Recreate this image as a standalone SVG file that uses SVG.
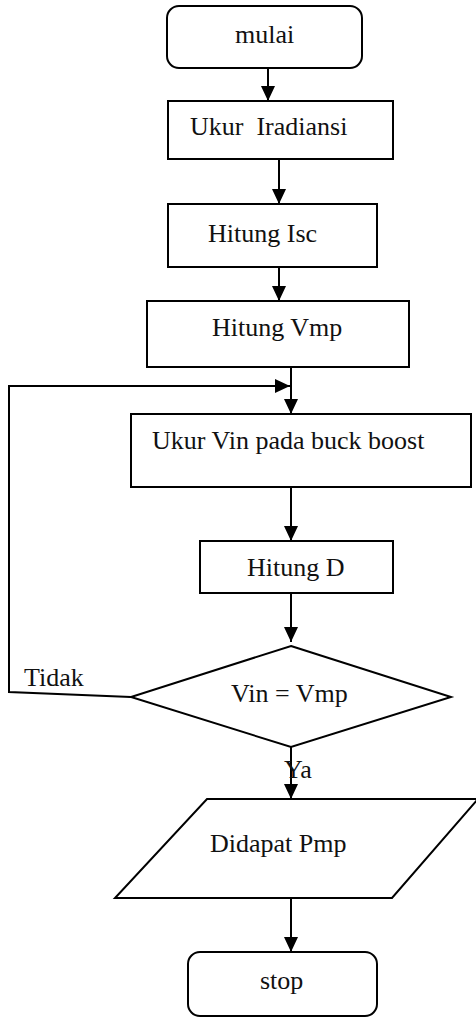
<svg xmlns="http://www.w3.org/2000/svg" width="476" height="1018" viewBox="0 0 476 1018">
  <style>
    .shape { fill: #ffffff; stroke: #000000; stroke-width: 2; }
    .line { fill: none; stroke: #000000; stroke-width: 2; }
    .label { font-family: "Liberation Serif", "Times New Roman", serif; font-size: 26px; fill: #111111; white-space: pre; }
  </style>
  <defs>
    <marker id="arrow" markerUnits="userSpaceOnUse" markerWidth="15" markerHeight="14" refX="15" refY="7" orient="auto">
      <path d="M0,0 L15,7 L0,14 Z" fill="#000000"/>
    </marker>
  </defs>
  <rect width="476" height="1018" fill="#ffffff"/>

  <!-- connectors -->
  <g id="connectors">
    <line class="line" x1="268" y1="68" x2="268" y2="101" marker-end="url(#arrow)"/>
    <line class="line" x1="279" y1="159" x2="279" y2="204" marker-end="url(#arrow)"/>
    <line class="line" x1="279" y1="267" x2="279" y2="301" marker-end="url(#arrow)"/>
    <line class="line" x1="291" y1="367" x2="291" y2="414" marker-end="url(#arrow)"/>
    <line class="line" x1="291" y1="487" x2="291" y2="541" marker-end="url(#arrow)"/>
    <line class="line" x1="291" y1="593" x2="291" y2="642" marker-end="url(#arrow)"/>
    <line class="line" x1="291" y1="747" x2="291" y2="799" marker-end="url(#arrow)"/>
    <line class="line" x1="291" y1="898" x2="291" y2="952" marker-end="url(#arrow)"/>
    <!-- loop back when Vin differs from Vmp -->
    <polyline class="line" points="131,697 9,692 9,386 290,386" marker-end="url(#arrow)"/>
    <text class="label" x="24" y="686">Tidak</text>
    <text class="label" x="284" y="778">Ya</text>
  </g>

  <g id="mulai">
    <rect class="shape" x="167" y="6" width="195" height="62" rx="12"/>
    <text class="label" x="235" y="43">mulai</text>
  </g>

  <g id="ukur-iradiansi">
    <rect class="shape" x="168" y="101" width="225" height="58"/>
    <text class="label" x="190" y="135">Ukur  Iradiansi</text>
  </g>

  <g id="hitung-isc">
    <rect class="shape" x="168" y="204" width="209" height="63"/>
    <text class="label" x="208" y="242">Hitung Isc</text>
  </g>

  <g id="hitung-vmp">
    <rect class="shape" x="147" y="301" width="262" height="66"/>
    <text class="label" x="212" y="336">Hitung Vmp</text>
  </g>

  <g id="ukur-vin">
    <rect class="shape" x="131" y="414" width="340" height="73"/>
    <text class="label" x="152" y="449">Ukur Vin pada buck boost</text>
  </g>

  <g id="hitung-d">
    <rect class="shape" x="200" y="541" width="193" height="52"/>
    <text class="label" x="247" y="576">Hitung D</text>
  </g>

  <g id="cek-vin">
    <polygon class="shape" points="291,646 451,697 291,747 131,697"/>
    <text class="label" x="231" y="702">Vin = Vmp</text>
  </g>

  <g id="didapat-pmp">
    <polygon class="shape" points="207,799 478,799 392,898 115,898"/>
    <text class="label" x="210" y="852">Didapat Pmp</text>
  </g>

  <g id="stop">
    <rect class="shape" x="188" y="952" width="189" height="64" rx="12"/>
    <text class="label" x="260" y="989">stop</text>
  </g>
</svg>
